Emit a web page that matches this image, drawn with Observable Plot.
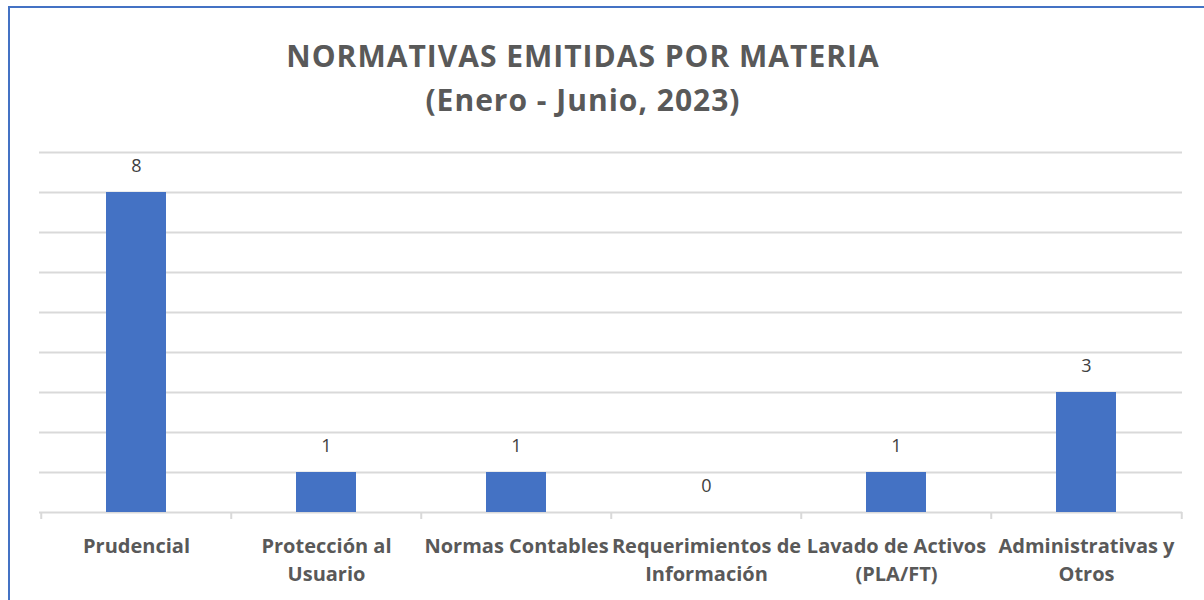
<!DOCTYPE html>
<html>
<head>
<meta charset="utf-8">
<script src="https://cdn.jsdelivr.net/npm/d3@7"></script>
<script src="https://cdn.jsdelivr.net/npm/@observablehq/plot@0.6"></script>
<style>
  html, body { margin: 0; padding: 0; background: #fff; }
  #wrap { position: relative; width: 1204px; height: 600px; overflow: hidden; background: #fff; font-family: "Open Sans", sans-serif; }
  #frame { position: absolute; left: 8px; top: 6px; width: 1300px; height: 700px; border-left: 2.5px solid #4472C4; border-top: 2.5px solid #4472C4; box-sizing: border-box; }
  #title { position: absolute; left: 8px; width: 1150px; top: 34px; text-align: center; color: #595959; font-weight: bold; font-size: 30px; letter-spacing: 1px; line-height: 44px; }
  #chart { position: absolute; left: 0; top: 120px; }
</style>
</head>
<body>
<div id="wrap">
  <div id="frame"></div>
  <div id="title">NORMATIVAS EMITIDAS POR MATERIA<br>(Enero - Junio, 2023)</div>
  <div id="chart"></div>
</div>
<script>
const categories = ["Prudencial", "Protección al Usuario", "Normas Contables", "Requerimientos de Información", "Lavado de Activos (PLA/FT)", "Administrativas y Otros"];
const tickLabels = ["Prudencial", "Protección al\nUsuario", "Normas Contables", "Requerimientos de\nInformación", "Lavado de Activos\n(PLA/FT)", "Administrativas y\nOtros"];
const values = [8, 1, 1, 0, 1, 3];
const yTicks = [0, 1, 2, 3, 4, 5, 6, 7, 8, 9];

const data = categories.map((c, i) => ({category: c, value: values[i]}));
const labelOf = new Map(categories.map((c, i) => [c, tickLabels[i]]));

const W = 1204, H = 480;
const mL = 39, mR = 22, mT = 32, mB = 88;
const half = (W - mL - mR) / categories.length / 2;

const chart = Plot.plot({
  width: W,
  height: H,
  marginLeft: mL,
  marginRight: mR,
  marginTop: mT,
  marginBottom: mB,
  style: {fontFamily: "'Open Sans', sans-serif", color: "#595959", background: "transparent"},
  x: {domain: categories, paddingInner: 0.685, paddingOuter: 0.3425, axis: null, label: null},
  y: {domain: [0, 9], axis: null, label: null},
  marks: [
    Plot.gridY(yTicks.filter(d => d > 0), {stroke: "#d9d9d9", strokeOpacity: 1, strokeWidth: 2}),
    Plot.ruleY([0], {stroke: "#d9d9d9", strokeWidth: 2}),
    Plot.axisX(categories, {tickSize: 7, text: null, label: null, dx: -half, stroke: "#d9d9d9", strokeWidth: 2}),
    Plot.axisX([categories[categories.length - 1]], {tickSize: 7, text: null, label: null, dx: half, stroke: "#d9d9d9", strokeWidth: 2}),
    Plot.axisX({tickSize: 0, tickPadding: 20, label: null, tickFormat: d => labelOf.get(d), fontSize: 20, fontWeight: "bold", fill: "#595959", lineHeight: 1.42, textAnchor: "middle"}),
    Plot.barY(data, {x: "category", y: "value", fill: "#4472C4"}),
    Plot.text(data, {x: "category", y: "value", text: d => String(d.value), dy: -26, fontSize: 18, fill: "#404040"})
  ]
});
document.getElementById("chart").appendChild(chart);
</script>
</body>
</html>
